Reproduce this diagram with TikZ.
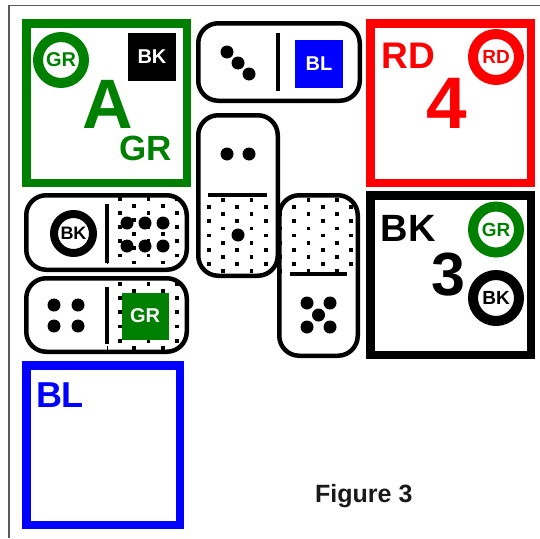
\documentclass[tikz,border=0pt]{standalone}
\usepackage{fontspec}
\setmainfont{Liberation Sans}
\definecolor{grn}{RGB}{0,128,0}
\definecolor{edgegray}{RGB}{90,90,90}
\tikzset{
  box/.style={line width=8.5pt},
  domino/.style={line width=4.5pt, rounded corners=20pt},
  bar/.style={line width=4pt},
  ring/.style={draw=#1, circle, line width=10pt, inner sep=0pt, minimum size=46pt, text=#1},
  tile/.style={fill=#1, inner sep=0pt, minimum size=48pt, text=white},
  txt/.style={font=\fontsize{#1}{#1}\selectfont\bfseries, inner sep=0pt},
}
% dotted half of a domino: x of first dot, y of first row, last row
\newcommand{\speckle}[3]{%
  \foreach \j in {0,...,#3}
    \foreach \i in {-1,...,5}
      \fill ({#1+14.25*mod(\j,2)+28.5*\i-1.9},{#2+7.1*\j-1.9}) rectangle ++(3.8,3.8);
}
\begin{document}
\begin{tikzpicture}[x=1pt, y=-1pt]
    \useasboundingbox (0,0) rectangle (540,538);

    % frame
    \draw[edgegray, line width=1.5pt] (9,538) -- (9,5.5) -- (540,5.5);

    % green square
    \draw[box, grn] (26.25,23.25) rectangle (186.75,182.75);
    \node[ring=grn, txt=20] (grA) at (61,60) {GR};
    \node[tile=black, txt=20] (bkA) at (152,57) {BK};
    \node[txt=70, text=grn] (letA) at (108,104) {A};
    \node[txt=35, text=grn] (grB) at (146,148) {GR};

    % red square
    \draw[box, red] (370.25,23.25) rectangle (530.75,182.75);
    \node[txt=37, text=red] (rdL) at (408,56) {RD};
    \node[ring=red, txt=19] (rdC) at (496,57) {RD};
    \node[txt=73, text=red] (four) at (447,103.5) {4};

    % black square
    \draw[box] (370.25,195.25) rectangle (530.75,354.75);
    \node[txt=38] (bkL) at (408,228) {BK};
    \node[ring=grn, txt=19] (grC) at (496,229.5) {GR};
    \node[txt=61] (three) at (448,275) {3};
    \node[ring=black, txt=19] (bkC) at (496,298) {BK};

    % blue square
    \draw[box, blue] (26.25,365.25) rectangle (179.75,524.75);
    \node[txt=36, text=blue] (blL) at (60,395) {BL};

    % top domino
    \draw[domino] (198.25,23.25) rectangle (359.75,100.75);
    \draw[bar] (278,33) -- (278,91);
    \fill (227,52) circle (6.5pt) (238,63) circle (6.5pt) (249,74) circle (6.5pt);
    \node[tile=blue, txt=20] (blT) at (319,64) {BL};

    % left dominoes
    \begin{scope}
      \clip[rounded corners=20pt] (26.25,195.25) rectangle (186.75,269.75);
      \clip (107,190) rectangle (190,275);
      \speckle{120}{198.6}{10}
    \end{scope}
    \begin{scope}
      \clip[rounded corners=20pt] (26.25,278.25) rectangle (186.75,351.75);
      \clip (107,275) rectangle (190,356);
      \speckle{120}{198.6}{22}
    \end{scope}
    \draw[domino] (26.25,195.25) rectangle (186.75,269.75);
    \draw[bar] (107,204) -- (107,263);
    \node[ring=black, line width=8pt, minimum size=39pt, txt=18] (bkD) at (73.5,233.5) {BK};
    \foreach \x in {127,145,163}
      \fill (\x,223) circle (6.5pt) (\x,246) circle (6.5pt);
    \draw[domino] (26.25,278.25) rectangle (186.75,351.75);
    \draw[bar] (107,287) -- (107,344);
    \foreach \x in {54,78}
      \fill (\x,305) circle (6.5pt) (\x,326) circle (6.5pt);
    \node[tile=grn, minimum size=47pt, txt=20] (grT) at (145,316) {GR};

    % upright dominoes
    \begin{scope}
      \clip[rounded corners=20pt] (198.25,115.25) rectangle (277.75,275.75);
      \clip (190,195) rectangle (285,280);
      \speckle{223}{200}{11}
    \end{scope}
    \draw[domino] (198.25,115.25) rectangle (277.75,275.75);
    \draw[bar] (208,195) -- (267,195);
    \fill (227,154) circle (6.5pt) (249,154) circle (6.5pt) (238,235) circle (6.5pt);
    \begin{scope}
      \clip[rounded corners=20pt] (279.25,195.25) rectangle (357.75,355.75);
      \clip (275,190) rectangle (362,274);
      \speckle{223}{200}{11}
    \end{scope}
    \draw[domino] (279.25,195.25) rectangle (357.75,355.75);
    \draw[bar] (290,274) -- (347,274);
    \fill (307,303) circle (6.5pt) (330,303) circle (6.5pt) (318.5,315) circle (6.5pt)
          (307,327) circle (6.5pt) (330,327) circle (6.5pt);

    % caption
    \node[txt=25, text=black!90, anchor=base west] (cap) at (315,502.7) {Figure 3};
\end{tikzpicture}
\end{document}
